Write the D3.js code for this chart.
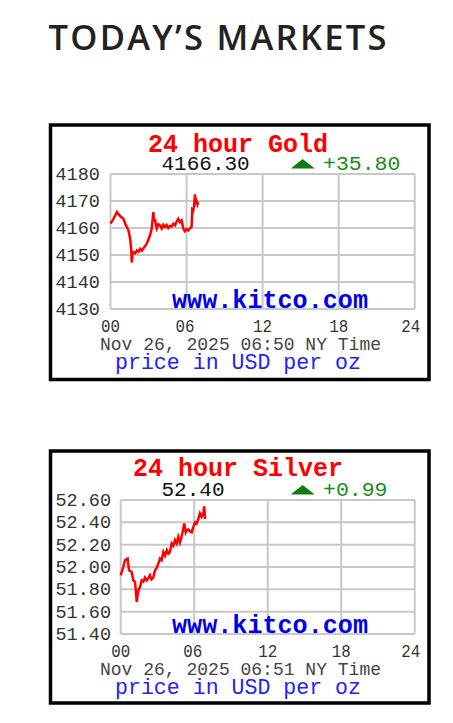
<!DOCTYPE html>
<html>
<head>
<meta charset="utf-8">
<script src="https://cdn.jsdelivr.net/npm/d3@7/dist/d3.min.js"></script>
<style>
  html, body { margin: 0; padding: 0; background: #fff; }
  svg { display: block; }
</style>
</head>
<body>
<script>
// ---------- DATA ----------
const xTicks = [0, 6, 12, 18, 24];
const xTickLabels = ["00", "06", "12", "18", "24"];

const goldTicks = [4130, 4140, 4150, 4160, 4170, 4180];
const goldTickLabels = ["4130", "4140", "4150", "4160", "4170", "4180"];
const goldHours = [0, 0.24, 0.50, 0.76, 1.02, 1.16, 1.42, 1.55, 1.63, 1.68, 1.74, 1.81, 1.95, 2.08, 2.21, 2.34, 2.47, 2.60, 2.73, 2.86, 3.00, 3.12, 3.25, 3.38, 3.45, 3.51, 3.58, 3.65, 3.78, 3.91, 4.04, 4.17, 4.30, 4.43, 4.56, 4.70, 4.83, 4.96, 5.09, 5.22, 5.35, 5.48, 5.61, 5.74, 5.87, 6.00, 6.13, 6.27, 6.40, 6.45, 6.52, 6.60, 6.66, 6.72, 6.79, 6.86, 6.92];
const goldPrices = [4161.6, 4163.4, 4165.9, 4164.4, 4163.4, 4161.6, 4159.1, 4156.0, 4152.3, 4147.2, 4150.5, 4151.0, 4150.6, 4151.7, 4151.2, 4152.3, 4151.6, 4152.5, 4153.3, 4154.2, 4155.8, 4157.3, 4159.8, 4165.9, 4162.5, 4163.4, 4161.0, 4159.8, 4161.4, 4161.0, 4159.8, 4161.2, 4160.4, 4161.1, 4160.0, 4160.8, 4160.6, 4161.6, 4161.0, 4162.4, 4163.4, 4162.2, 4162.8, 4159.8, 4158.8, 4159.6, 4159.1, 4159.9, 4160.4, 4166.8, 4166.4, 4168.0, 4172.5, 4169.4, 4170.0, 4168.8, 4169.6];

const silverTicks = [51.40, 51.60, 51.80, 52.00, 52.20, 52.40, 52.60];
const silverTickLabels = ["51.40", "51.60", "51.80", "52.00", "52.20", "52.40", "52.60"];
const silverHours = [0, 0.21, 0.35, 0.57, 0.68, 0.90, 1.03, 1.17, 1.31, 1.44, 1.58, 1.71, 1.85, 1.98, 2.12, 2.25, 2.39, 2.52, 2.66, 2.80, 2.93, 3.07, 3.21, 3.35, 3.48, 3.62, 3.76, 3.89, 4.02, 4.16, 4.30, 4.43, 4.57, 4.70, 4.84, 4.94, 5.03, 5.19, 5.31, 5.41, 5.52, 5.66, 5.80, 5.93, 6.07, 6.20, 6.33, 6.47, 6.61, 6.74, 6.82, 6.88];
const silverPrices = [51.926, 52.000, 52.060, 52.075, 51.970, 51.955, 51.880, 51.866, 51.687, 51.790, 51.820, 51.880, 51.870, 51.905, 51.880, 51.896, 51.926, 51.890, 51.905, 51.970, 51.990, 52.030, 52.075, 52.060, 52.134, 52.100, 52.150, 52.120, 52.134, 52.210, 52.190, 52.240, 52.210, 52.270, 52.220, 52.260, 52.300, 52.390, 52.310, 52.330, 52.335, 52.320, 52.310, 52.360, 52.400, 52.390, 52.430, 52.480, 52.450, 52.480, 52.544, 52.430];

const goldInfo = { title: "24 hour Gold", price: "4166.30", change: "+35.80", stamp: "Nov 26, 2025 06:50 NY Time" };
const silverInfo = { title: "24 hour Silver", price: "52.40", change: "+0.99", stamp: "Nov 26, 2025 06:51 NY Time" };
const unitText = "price in USD per oz";
const brandText = "www.kitco.com";
const headingText = "TODAY\u2019S MARKETS";

// ---------- DRAW ----------
const W = 453, H = 723;
const svg = d3.select("body").append("svg").attr("width", W).attr("height", H);
svg.append("rect").attr("width", W).attr("height", H).attr("fill", "#fff");

svg.append("text")
  .attr("x", 48.5).attr("y", 49.5)
  .attr("font-family", "'Open Sans', sans-serif")
  .attr("font-weight", 600)
  .attr("font-size", 34.5)
  .attr("fill", "#222")
  .attr("textLength", 338).attr("lengthAdjust", "spacing")
  .text(headingText);

const MONO = "'Liberation Mono', 'DejaVu Sans Mono', monospace";

function drawChart(cfg) {
  const g = svg.append("g");
  // outer box
  g.append("rect")
    .attr("x", cfg.box.x).attr("y", cfg.box.y)
    .attr("width", cfg.box.w).attr("height", cfg.box.h)
    .attr("fill", "#fff").attr("stroke", "#000").attr("stroke-width", 3.5);

  const x = d3.scaleLinear().domain([0, 24]).range([cfg.plot.x0, cfg.plot.x1]);
  const y = d3.scaleLinear().domain(d3.extent(cfg.ticks)).range([cfg.plot.y1, cfg.plot.y0]);

  // grid
  const grid = g.append("g").attr("stroke", "#c8c8c8").attr("stroke-width", 2);
  grid.selectAll("line.h").data(cfg.ticks).join("line")
    .attr("x1", cfg.plot.x0).attr("x2", cfg.plot.x1)
    .attr("y1", d => y(d)).attr("y2", d => y(d));
  grid.selectAll("line.v").data(xTicks).join("line")
    .attr("y1", cfg.plot.y0).attr("y2", cfg.plot.y1)
    .attr("x1", d => x(d)).attr("x2", d => x(d));

  // y labels
  const yl = g.append("g");
  cfg.ticks.forEach((t, i) => {
    yl.append("text")
      .attr("x", 55.5).attr("y", y(t) + 6)
      .attr("font-family", MONO).attr("font-size", 17.5)
      .attr("fill", "#333")
      .attr("textLength", cfg.tickLabels[i].length * 11.1).attr("lengthAdjust", "spacingAndGlyphs")
      .text(cfg.tickLabels[i]);
  });

  // x labels
  xTicks.forEach((t, i) => {
    g.append("text")
      .attr("x", x(t) - (i === 4 ? 4 : (i === 1 ? 1.5 : 0))).attr("y", cfg.plot.y1 + 23)
      .attr("text-anchor", "middle")
      .attr("font-family", MONO).attr("font-size", 17.5)
      .attr("fill", "#333")
      .attr("textLength", 19).attr("lengthAdjust", "spacingAndGlyphs")
      .text(xTickLabels[i]);
  });

  // brand
  g.append("text")
    .attr("x", 172).attr("y", cfg.plot.y1 - 1)
    .attr("font-family", MONO).attr("font-size", 25).attr("font-weight", "bold")
    .attr("fill", "#0000ee")
    .attr("textLength", 196).attr("lengthAdjust", "spacingAndGlyphs")
    .text(brandText);

  // line
  const line = d3.line().x(d => x(d[0])).y(d => y(d[1]));
  g.append("path")
    .datum(cfg.hours.map((h, i) => [h, cfg.prices[i]]))
    .attr("d", line)
    .attr("fill", "none").attr("stroke", "#ff0000").attr("stroke-width", 2.5)
    .attr("stroke-linejoin", "miter");

  // title
  g.append("text")
    .attr("x", cfg.titleX).attr("y", cfg.titleY)
    .attr("font-family", MONO).attr("font-size", 25).attr("font-weight", "bold")
    .attr("fill", "#ff0000")
    .attr("textLength", cfg.titleLen).attr("lengthAdjust", "spacingAndGlyphs")
    .text(cfg.info.title);

  // price
  g.append("text")
    .attr("x", 161.5).attr("y", cfg.priceY)
    .attr("font-family", MONO).attr("font-size", 20.5)
    .attr("fill", "#111")
    .attr("textLength", cfg.info.price.length * 12.6).attr("lengthAdjust", "spacingAndGlyphs")
    .text(cfg.info.price);

  // triangle
  const ty = cfg.priceY - 1.5;
  g.append("path")
    .attr("d", `M${290.7},${ty} L${314.7},${ty} L${302.7},${ty - 9.5} Z`)
    .attr("fill", "#107c10");

  // change
  g.append("text")
    .attr("x", 323).attr("y", cfg.priceY)
    .attr("font-family", MONO).attr("font-size", 20.5)
    .attr("fill", "#1a8c1a")
    .attr("textLength", cfg.info.change.length * 12.9).attr("lengthAdjust", "spacingAndGlyphs")
    .text(cfg.info.change);

  // timestamp
  g.append("text")
    .attr("x", 100).attr("y", cfg.plot.y1 + 41)
    .attr("font-family", MONO).attr("font-size", 17.5)
    .attr("fill", "#444")
    .attr("textLength", 281).attr("lengthAdjust", "spacingAndGlyphs")
    .text(cfg.info.stamp);

  // unit text
  g.append("text")
    .attr("x", 115).attr("y", cfg.plot.y1 + 60)
    .attr("font-family", MONO).attr("font-size", 21.5)
    .attr("fill", "#2222ff")
    .attr("textLength", 246).attr("lengthAdjust", "spacingAndGlyphs")
    .text(unitText);
}

drawChart({
  box: { x: 50.5, y: 125, w: 378.5, h: 254.5 },
  plot: { x0: 110.5, x1: 414.7, y0: 174, y1: 309 },
  ticks: goldTicks, tickLabels: goldTickLabels,
  hours: goldHours, prices: goldPrices,
  info: goldInfo,
  titleX: 148, titleY: 152, titleLen: 180,
  priceY: 170
});

drawChart({
  box: { x: 50.5, y: 451, w: 378.5, h: 252 },
  plot: { x0: 120.7, x1: 414.7, y0: 500, y1: 634 },
  ticks: silverTicks, tickLabels: silverTickLabels,
  hours: silverHours, prices: silverPrices,
  info: silverInfo,
  titleX: 133, titleY: 476, titleLen: 210,
  priceY: 496
});
</script>
</body>
</html>
